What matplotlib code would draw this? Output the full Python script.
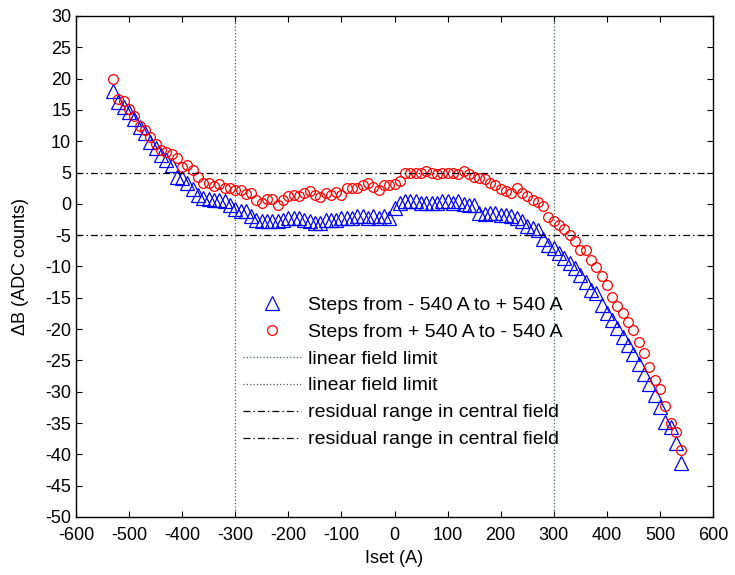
import matplotlib
matplotlib.use('Agg')
import matplotlib.pyplot as plt

plt.rcParams['font.family'] = ['Liberation Sans', 'DejaVu Sans']
plt.rcParams['lines.scale_dashes'] = False
plt.rcParams['axes.unicode_minus'] = False

# set current (A)
iset = [-530, -520, -510, -500, -490, -480, -470, -460, -450, -440,
        -430, -420, -410, -400, -390, -380, -370, -360, -350, -340,
        -330, -320, -310, -300, -290, -280, -270, -260, -250, -240,
        -230, -220, -210, -200, -190, -180, -170, -160, -150, -140,
        -130, -120, -110, -100, -90, -80, -70, -60, -50, -40,
        -30, -20, -10, 0, 10, 20, 30, 40, 50, 60,
        70, 80, 90, 100, 110, 120, 130, 140, 150, 160,
        170, 180, 190, 200, 210, 220, 230, 240, 250, 260,
        270, 280, 290, 300, 310, 320, 330, 340, 350, 360,
        370, 380, 390, 400, 410, 420, 430, 440, 450, 460,
        470, 480, 490, 500, 510, 520, 530, 540]

# steps from -540 A to +540 A
db_up = [18.1, 16.3, 15.5, 14.7, 13.5, 12.2, 11.3, 9.9, 8.9, 7.8,
         7.0, 6.2, 4.3, 4.1, 3.4, 2.3, 1.4, 0.9, 0.8, 0.6,
         0.6, 0.4, -0.2, -0.9, -1.2, -1.2, -2.0, -2.6, -2.7, -2.7,
         -2.8, -2.7, -2.5, -2.3, -2.3, -2.3, -2.5, -2.8, -3.1, -3.0,
         -2.6, -2.5, -2.6, -2.3, -2.3, -2.3, -1.9, -1.9, -2.2, -1.9,
         -2.2, -1.9, -2.2, -0.7, 0.1, 0.4, 0.4, 0.4, 0.1, 0.2,
         0.1, 0.2, 0.4, 0.4, 0.2, 0.4, 0.0, -0.2, -0.2, -1.5,
         -1.6, -1.5, -1.5, -1.7, -1.8, -1.9, -2.2, -2.8, -3.6, -3.9,
         -4.2, -5.6, -6.6, -7.0, -7.8, -8.7, -9.5, -10.3, -11.4, -12.4,
         -13.8, -14.3, -16.1, -17.5, -18.5, -19.9, -21.2, -22.5, -23.9, -25.5,
         -27.1, -28.7, -30.5, -32.4, -34.8, -35.6, -38.2, -41.4]

# steps from +540 A to -540 A
db_down = [19.9, 16.8, 16.5, 15.1, 14.1, 12.5, 11.8, 10.6, 9.6, 8.6,
           8.3, 8.0, 7.3, 5.9, 6.2, 5.4, 4.3, 3.4, 3.3, 2.9,
           3.2, 2.6, 2.5, 2.2, 2.2, 1.6, 1.8, 0.6, 0.1, 0.8,
           0.8, -0.2, 0.6, 1.3, 1.4, 1.2, 1.8, 2.1, 1.4, 1.1,
           1.7, 1.4, 1.9, 1.4, 2.5, 2.5, 2.5, 3.0, 3.3, 2.7,
           2.2, 3.0, 3.0, 3.2, 3.7, 5.0, 5.0, 5.0, 5.0, 5.3,
           4.9, 4.7, 4.9, 5.0, 5.0, 4.7, 5.3, 4.7, 4.3, 4.1,
           3.9, 3.4, 3.0, 2.4, 2.0, 1.8, 2.6, 1.7, 1.3, 0.6,
           0.3, -0.3, -2.1, -2.7, -3.3, -4.0, -5.0, -6.0, -7.4, -7.4,
           -8.9, -10.1, -11.5, -13.0, -14.8, -16.3, -17.4, -18.8, -20.1, -22.0,
           -23.8, -26.0, -28.1, -29.6, -32.3, -35.0, -36.5, -39.3]

lin_limit = [-300, 300]
resid_range = [5, -5]

fig = plt.figure(figsize=(7.35, 5.75), dpi=100)
ax = fig.add_axes([0.1034, 0.1009, 0.8667, 0.8713])

ax.plot(iset, db_up, linestyle='none', marker='^', markersize=9.5,
        markerfacecolor='none', markeredgecolor='#0000ff', markeredgewidth=0.9,
        label='Steps from - 540 A to + 540 A')
ax.plot(iset, db_down, linestyle='none', marker='o', markersize=7,
        markerfacecolor='none', markeredgecolor='#ff0000', markeredgewidth=0.9,
        label='Steps from + 540 A to - 540 A')

for xv in lin_limit:
    ax.axvline(xv, color='#2f5050', linewidth=0.9, linestyle=(0, (0.8, 1.6)),
               label='linear field limit')
for yv in resid_range:
    ax.axhline(yv, color='black', linewidth=0.9, linestyle=(0, (5, 2.2, 1, 2.2)),
               label='residual range in central field')

ax.set_xlim(-600, 600)
ax.set_ylim(-50, 30)
ax.set_xticks(range(-600, 601, 100))
ax.set_yticks(range(-50, 31, 5))
ax.tick_params(direction='in', top=True, right=True, length=4, width=0.8,
               labelsize=13)
ax.tick_params(axis='x', pad=7.5)
ax.tick_params(axis='y', pad=3.5)
for s in ax.spines.values():
    s.set_linewidth(1.0)

ax.set_xlabel('Iset (A)', fontsize=13)
ax.set_ylabel('\u0394B (ADC counts)', fontsize=13)
ax.xaxis.set_label_coords(0.5, -0.066)
ax.yaxis.set_label_coords(-0.073, 0.5)

ax.legend(loc='upper left', bbox_to_anchor=(0.262, 0.441), frameon=False,
          fontsize=14, handlelength=3.0, handletextpad=0.35,
          labelspacing=0.48, borderpad=0, borderaxespad=0)

fig.savefig('out.png', dpi=100)
